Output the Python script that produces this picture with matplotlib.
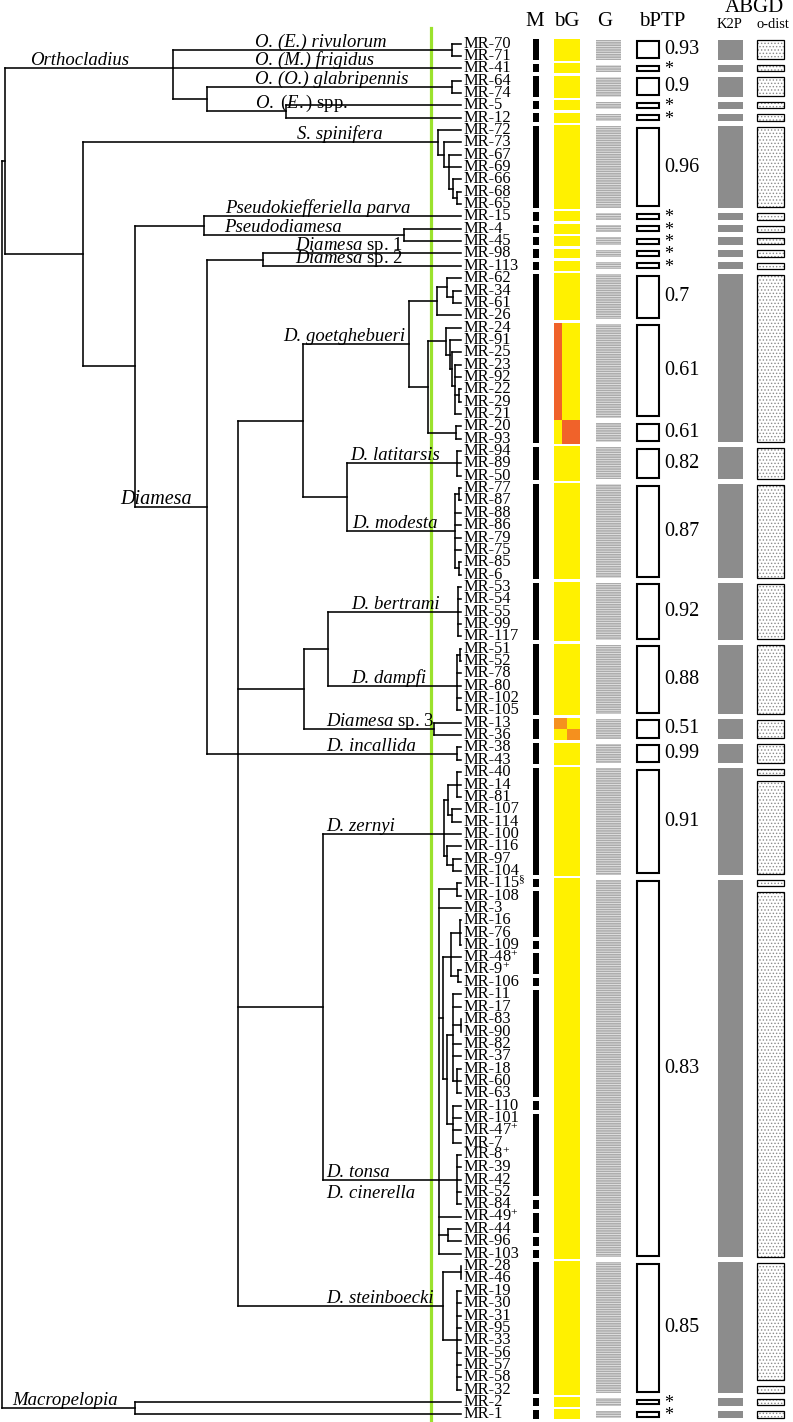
import matplotlib
matplotlib.use("Agg")
import matplotlib.pyplot as plt
import numpy as np

plt.rcParams["font.family"] = "Liberation Serif"
plt.rcParams["mathtext.fontset"] = "custom"
plt.rcParams["mathtext.rm"] = "Liberation Serif"
plt.rcParams["mathtext.it"] = "Liberation Serif:italic"
plt.rcParams["mathtext.bf"] = "Liberation Serif:bold"
plt.rcParams["hatch.linewidth"] = 0.6

W, H = 793, 1422
Y0, ROW = 43.5, 12.35   # pixel row of first tip, tip spacing
TIP = 461               # tip depth
CUTOFF = 431            # green threshold line


def clade(depth, *kids, name=None, nx=None, name2=None):
    return {"depth": depth, "kids": list(kids), "name": name, "nx": nx, "name2": name2}


def tip(leaf, name=None, nx=None):
    return {"leaf": leaf, "name": name, "nx": nx}


# ---------------- tree ----------------
orthocladius = clade(
    173,
    clade(452, "MR-70", "MR-71", name="O. (E.) rivulorum", nx=255),
    tip("MR-41", name="O. (M.) frigidus", nx=255),
    clade(207,
          clade(452, "MR-64", "MR-74", name="O. (O.) glabripennis", nx=255),
          clade(286, "MR-5", "MR-12", name=r"$\mathit{O.\ (E.)}$ spp.", nx=255)),
    name="Orthocladius", nx=30)

spinifera = clade(438, "MR-72",
                  clade(444, "MR-73",
                        clade(449, "MR-67", "MR-69",
                              clade(453, "MR-66", clade(457, "MR-68", "MR-65")))),
                  name="S. spinifera", nx=297)

pseudo = clade(204,
               tip("MR-15", name="Pseudokiefferiella parva", nx=225),
               clade(404, "MR-4", "MR-45", name="Pseudodiamesa", nx=224))

diamesa_sp12 = clade(263,
                     tip("MR-98", name=r"$\mathit{Diamesa}$ sp. 1", nx=295),
                     tip("MR-113", name=r"$\mathit{Diamesa}$ sp. 2", nx=295))

goetghebueri = clade(
    409,
    clade(437, clade(447, "MR-62", clade(453, "MR-34", "MR-61")), "MR-26"),
    clade(428,
          clade(446, "MR-24",
                clade(450, "MR-91",
                      clade(452, "MR-25",
                            clade(455, "MR-23", "MR-92", clade(459, "MR-22", "MR-29"), "MR-21")))),
          clade(456, "MR-20", "MR-93")),
    name="D. goetghebueri", nx=283)

latitarsis = clade(457, "MR-94", "MR-89", "MR-50", name="D. latitarsis", nx=350)
modesta = clade(455, clade(459, "MR-77", "MR-87"), "MR-88", "MR-86", "MR-79", "MR-75",
                clade(459, "MR-85", "MR-6"), name="D. modesta", nx=352)
bertrami = clade(458, "MR-53", "MR-54", "MR-55", "MR-99", "MR-117", name="D. bertrami", nx=351)
dampfi = clade(457, clade(460, "MR-51", "MR-52"), "MR-78", "MR-80", "MR-102", "MR-105",
               name="D. dampfi", nx=351)
diamesa_sp3 = clade(434, "MR-13", "MR-36", name=r"$\mathit{Diamesa}$ sp. 3", nx=326)
incallida = clade(457, "MR-38", "MR-43", name="D. incallida", nx=326)

zernyi = clade(444,
               clade(448, clade(457, "MR-40", "MR-14", "MR-81"), clade(452, "MR-107", "MR-114")),
               "MR-100",
               clade(447, "MR-116", clade(453, "MR-97", "MR-104")),
               name="D. zernyi", nx=326)

tonsa_inner = clade(
    443,
    clade(451, clade(460, "MR-16", "MR-76", "MR-109"), "MR-48⁺", clade(458, "MR-9⁺", "MR-106")),
    clade(447,
          clade(453, "MR-11", "MR-17", clade(461, "MR-83", "MR-90"), "MR-82", "MR-37",
                clade(457, "MR-18", "MR-60", "MR-63")),
          clade(453, "MR-110", "MR-101", "MR-47⁺", "MR-7")))

tonsa = clade(439,
              clade(457, "MR-115§", "MR-108"), "MR-3", tonsa_inner,
              clade(457, "MR-8⁺", "MR-39", "MR-42", "MR-52", "MR-84"),
              "MR-49⁺", clade(448, "MR-44", "MR-96"), "MR-103",
              name="D. tonsa", nx=326, name2="D. cinerella")

steinboecki = clade(443, clade(461, "MR-28", "MR-46"),
                    clade(457, "MR-19", "MR-30", "MR-31", "MR-95", "MR-33", "MR-56",
                          "MR-57", "MR-58", "MR-32"),
                    name="D. steinboecki", nx=326)

diamesa = clade(207, diamesa_sp12,
                clade(238,
                      clade(303, goetghebueri, clade(347, latitarsis, modesta)),
                      clade(304, clade(328, bertrami, dampfi), diamesa_sp3),
                      incallida,
                      clade(323, zernyi, tonsa),
                      steinboecki),
                name="Diamesa", nx=120)

tree = clade(2,
             clade(5, orthocladius, clade(83, spinifera, clade(135, pseudo, diamesa))),
             clade(135, "MR-2", "MR-1", name="Macropelopia", nx=12))

# ---------------- delimitation columns (group sizes, top to bottom) ----------------
m_groups = [2, 1, 2, 1, 1, 7, 1, 1, 1, 1, 1, 14, 3, 8, 5, 6, 2, 2, 9, 1, 4, 1, 2, 1, 9,
            1, 7, 1, 2, 1, 1, 11, 1, 1]
bg_groups = [2, 1, 2, 1, 1, 7, 1, 1, 1, 1, 1, 4, 10, 3, 8, 5, 6, 2, 2, 9, 31, 11, 1, 1]
g_groups = [2, 1, 2, 1, 1, 7, 1, 1, 1, 1, 1, 4, 8, 2, 3, 8, 5, 6, 2, 2, 9, 31, 11, 1, 1]
bptp_groups = g_groups
bptp_support = ["0.93", "*", "0.9", "*", "*", "0.96", "*", "*", "*", "*", "*", "0.7", "0.61",
                "0.61", "0.82", "0.87", "0.92", "0.88", "0.51", "0.99", "0.91", "0.83", "0.85",
                "*", "*"]
k2p_groups = [2, 1, 2, 1, 1, 7, 1, 1, 1, 1, 1, 14, 3, 8, 5, 6, 2, 2, 9, 31, 11, 1, 1]
pdist_groups = [2, 1, 2, 1, 1, 7, 1, 1, 1, 1, 1, 14, 3, 8, 5, 6, 2, 2, 1, 8, 1, 30, 10, 1, 1, 1]
# bGMYC co-assignment (first tip, n tips, sub-column from, to, colour)
bg_mixed = [("MR-24", 8, 0.0, 0.29, "#f0622a"), ("MR-20", 2, 0.29, 1.0, "#f0622a"),
            ("MR-13", 1, 0.0, 0.5, "#f5901e"), ("MR-36", 1, 0.5, 1.0, "#f5901e")]

# ---------------- drawing ----------------
fig = plt.figure(figsize=(W / 100, H / 100), dpi=100)
ax = fig.add_axes([0, 0, 1, 1])
ax.set_xlim(0, W)
ax.set_ylim((H - Y0) / ROW, -Y0 / ROW)
ax.axis("off")

LINE = dict(color="black", lw=1.15, solid_capstyle="projecting", zorder=3)
LAB = dict(family="Liberation Serif", fontsize=13.5, va="baseline", ha="left", zorder=4)
leaf_order = []


def put_label(node, y):
    kw = dict(LAB)
    if node["name"] == "Diamesa":
        kw["fontsize"] = 14.5
    if "$" not in node["name"]:
        kw["style"] = "italic"
    ax.text(node["nx"], y - 3 / ROW, node["name"], **kw)
    if node.get("name2"):
        ax.text(node["nx"], y + 18 / ROW, node["name2"], style="italic", **LAB)


def draw(node):
    if isinstance(node, str):
        node = tip(node)
    if "leaf" in node:
        r = len(leaf_order)
        leaf_order.append(node["leaf"])
        return node, TIP, r
    kids = [draw(k) for k in node["kids"]]
    ys = [k[2] for k in kids]
    x, y = node["depth"], float(np.median(ys))
    ax.plot([x, x], [min(ys), max(ys)], **LINE)
    for kn, kx, ky in kids:
        ax.plot([x, kx], [ky, ky], **LINE)
        if kn.get("name"):
            put_label(kn, ky)
    return node, x, y


draw(tree)

ax.plot([CUTOFF, CUTOFF], [(28 - Y0) / ROW, (H - Y0) / ROW], color="#9be22d", lw=2.3, zorder=2)

for i, name in enumerate(leaf_order):
    txt = name.replace("⁺", "$^{+}$").replace("§", r"$^{\S}$")
    ax.text(TIP + 2, i, txt, fontsize=11.8, va="center", ha="left", zorder=4)


def spans(sizes):
    out, s = [], 0
    for n in sizes:
        out.append((s, s + n - 1))
        s += n
    return out


def column(sizes, x0, x1, gap, **kw):
    g = gap / ROW
    for a, b in spans(sizes):
        ax.bar((x0 + x1) / 2, b - a + 1 - g, width=x1 - x0, bottom=a - 0.5 + g / 2, **kw)


column(m_groups, 533, 539, 4, color="black", lw=0)
column(bg_groups, 554, 580, 2.5, color="#fff100", lw=0)
g_bg = 2.5 / ROW
starts = {a for a, b in spans(bg_groups)}
ends = {b for a, b in spans(bg_groups)}
for leaf, n, f0, f1, col in bg_mixed:
    r0 = leaf_order.index(leaf)
    r1 = r0 + n - 1
    top = r0 - 0.5 + (g_bg / 2 if r0 in starts else 0)
    bot = r1 + 0.5 - (g_bg / 2 if r1 in ends else 0)
    xa, xb = 554 + f0 * 26, 554 + f1 * 26
    ax.bar((xa + xb) / 2, bot - top, width=xb - xa, bottom=top, color=col, lw=0)

column(g_groups, 596, 621, 5, color="#ababab", lw=0)
column(g_groups, 596, 621, 5, facecolor="none", edgecolor="#e6e6e6", lw=0, hatch="-------")
column(bptp_groups, 636.5, 658.5, 7.5, facecolor="white", edgecolor="black", lw=1.5)
for (a, b), s in zip(spans(bptp_groups), bptp_support):
    yc = (a + b) / 2 + (0.12 if s == "*" else 0)
    ax.text(664, yc, s, fontsize=14.5 if s != "*" else 13, va="center", ha="left")
column(k2p_groups, 718, 743, 5, color="#8c8c8c", lw=0)
column(pdist_groups, 757, 784, 6, facecolor="white", edgecolor="#8a8a8a", lw=0, hatch=".....")
column(pdist_groups, 757, 784, 6, facecolor="none", edgecolor="black", lw=0.9)

# ---------------- column headers ----------------
for x, y, s, fs in [(535, 22, "M", 15), (567, 22, "bG", 15), (605, 22, "G", 15),
                    (662, 22, "bPTP", 15), (754, 8, "ABGD", 15),
                    (730, 24, "K2P", 10.5), (773, 24, "o-dist", 10.5)]:
    fig.text(x / W, 1 - y / H, s, fontsize=fs, ha="center", va="center")

fig.savefig("out.png", dpi=100)
